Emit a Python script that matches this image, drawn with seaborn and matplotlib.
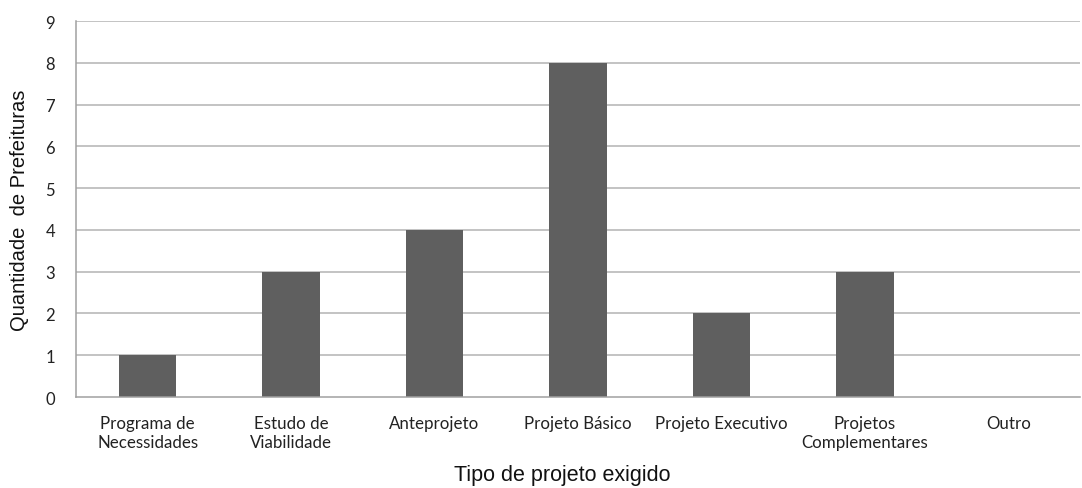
import matplotlib
matplotlib.use("Agg")
import matplotlib.pyplot as plt
import seaborn as sns
import pandas as pd

categorias = ["Programa de\nNecessidades", "Estudo de\nViabilidade", "Anteprojeto",
              "Projeto Básico", "Projeto Executivo", "Projetos\nComplementares", "Outro"]
quantidades = [1, 3, 4, 8, 2, 3, 0]
y_ticks = list(range(0, 10))

sns.set_style("white")
plt.rcParams["font.family"] = ["Lato", "DejaVu Sans"]

df = pd.DataFrame({"tipo": categorias, "qtd": quantidades})

fig = plt.figure(figsize=(10.82, 4.89), dpi=100)
ax = fig.add_axes([0.0702, 0.186, 0.928, 0.769])

ax.set_axisbelow(True)
for t in y_ticks[1:]:
    ax.axhline(t, color="#b3b3b3", linewidth=1.1, zorder=0)

sns.barplot(data=df, x="tipo", y="qtd", color="#5f5f5f", width=0.4,
            saturation=1, linewidth=0, ax=ax, zorder=2)

ax.set_ylim(0, 9)
ax.set_xlim(-0.5, len(categorias) - 0.5)
ax.set_yticks(y_ticks)
ax.tick_params(axis="both", length=0, colors="#222222")
ax.tick_params(axis="x", pad=13, labelsize=12.2)
ax.tick_params(axis="y", pad=15, labelsize=12)
for lbl in ax.get_xticklabels():
    lbl.set_linespacing(1.25)

for s in ["top", "right"]:
    ax.spines[s].set_visible(False)
for s in ["left", "bottom"]:
    ax.spines[s].set_color("#a0a0a0")
    ax.spines[s].set_linewidth(1.1)

ax.set_xlabel("Tipo de projeto exigido", fontsize=15.5, color="#111111",
              family=["Liberation Sans", "DejaVu Sans"])
ax.xaxis.set_label_coords(0.484, -0.178)
ax.set_ylabel("Quantidade  de Prefeituras", fontsize=14.5, color="#111111",
              family=["Liberation Sans", "DejaVu Sans"], labelpad=12)

fig.savefig("out.png", dpi=100)
